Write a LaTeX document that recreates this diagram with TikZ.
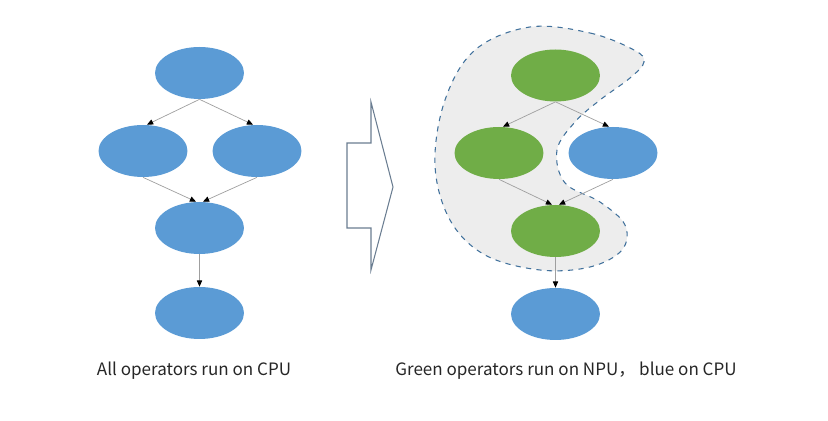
\documentclass[tikz,border=0pt]{standalone}
\usepackage{fontspec}
\newfontfamily\cjk{Noto Sans CJK SC}
\usepackage{xcolor}
\usetikzlibrary{arrows.meta, positioning, shapes.geometric}
\definecolor{opblue}{HTML}{5B9BD5}
\definecolor{opgreen}{HTML}{70AD47}
\definecolor{blobline}{HTML}{41719C}
\definecolor{shapeline}{HTML}{6A7D91}
\begin{document}
\begin{tikzpicture}[
  x=0.02cm, y=-0.02cm,
  op/.style={ellipse, fill=opblue, minimum width=1.78cm, minimum height=1.04cm, inner sep=0pt},
  npu/.style={op, fill=opgreen},
  link/.style={draw=gray!75, line width=0.4pt, -{Triangle[length=3.5pt, width=3pt, black]}},
  caption/.style={font=\cjk\fontsize{9.7pt}{12pt}\selectfont, text=black!85, inner sep=0pt},
]
\useasboundingbox (0,0) rectangle (828,421);
\node[op] (a1) at (199.5,73) {};
\node[op] (a2) at (143,151) {};
\node[op] (a3) at (257,151) {};
\node[op] (a4) at (199.5,228) {};
\node[op] (a5) at (199.5,313) {};
\draw[link] (a1.south) -- ([xshift=0.08cm]a2.north);
\draw[link] (a1.south) -- ([xshift=-0.08cm]a3.north);
\draw[link] (a2.south) -- ([xshift=-0.07cm]a4.north);
\draw[link] (a3.south) -- ([xshift=0.07cm]a4.north);
\draw[link] (a4) -- (a5);
\draw[shapeline, line width=0.6pt] (347,143) -- (371,143) -- (371,102) -- (393,187)
  -- (371,270) -- (371,228) -- (347,228) -- cycle;
\draw[blobline, dashed, fill=gray!14, line width=0.6pt] plot[smooth cycle, tension=0.6] coordinates {
  (530,27) (590,33) (634,50) (644,62) (630,78) (600,100) (575,122) (557,150)
  (565,183) (600,202) (625,225) (622,250) (590,267) (540,270) (485,255)
  (450,220) (435,165) (445,100) (475,50)};
\node[npu] (b1) at (555.5,75.5) {};
\node[npu] (b2) at (499,153) {};
\node[op] (b3) at (613,153) {};
\node[npu] (b4) at (555.5,231) {};
\node[op] (b5) at (555.5,314) {};
\draw[link] (b1.south) -- ([xshift=0.08cm]b2.north);
\draw[link] (b1.south) -- ([xshift=-0.08cm]b3.north);
\draw[link] (b2.south) -- ([xshift=-0.07cm]b4.north);
\draw[link] (b3.south) -- ([xshift=0.07cm]b4.north);
\draw[link] (b4) -- (b5);
\node[caption] (capleft) at (194,371) {All operators run on CPU};
\node[caption] (capright) at (566,371) {Green operators run on NPU，\ blue on CPU};
\end{tikzpicture}
\end{document}
